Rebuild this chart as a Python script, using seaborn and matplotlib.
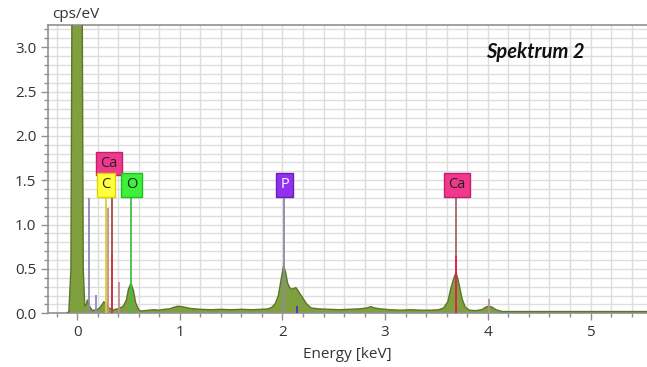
import numpy as np
import matplotlib
matplotlib.use("Agg")
import matplotlib.pyplot as plt
from matplotlib.ticker import MultipleLocator
import seaborn as sns

# ---- data ----
energy = [-0.10, -0.08, -0.06, -0.05, -0.04, 0.0, 0.04, 0.05, 0.06, 0.075, 0.09, 0.10,
          0.12, 0.15, 0.18, 0.21, 0.24, 0.26, 0.28, 0.31, 0.35, 0.40, 0.45, 0.48, 0.50,
          0.525, 0.55, 0.57, 0.60, 0.62, 0.66, 0.70, 0.75, 0.80, 0.85, 0.90, 0.95, 0.98,
          1.02, 1.06, 1.10, 1.15, 1.20, 1.30, 1.40, 1.50, 1.60, 1.70, 1.80, 1.86, 1.90,
          1.93, 1.96, 1.99, 2.01, 2.03, 2.05, 2.07, 2.09, 2.11, 2.13, 2.15, 2.17, 2.19,
          2.21, 2.24, 2.28, 2.35, 2.45, 2.55, 2.65, 2.75, 2.82, 2.86, 2.90, 2.95, 3.05,
          3.15, 3.25, 3.35, 3.45, 3.52, 3.57, 3.61, 3.64, 3.67, 3.69, 3.71, 3.73, 3.75,
          3.78, 3.82, 3.88, 3.94, 3.98, 4.01, 4.04, 4.08, 4.14, 4.25, 4.40, 4.60, 4.80,
          5.00, 5.20, 5.40, 5.55]
cps = [0.0, 0.02, 0.5, 3.5, 8.0, 9.0, 8.0, 3.5, 0.5, 0.08, 0.10, 0.15,
       0.08, 0.03, 0.04, 0.05, 0.09, 0.13, 0.11, 0.06, 0.04, 0.05, 0.08, 0.15, 0.27,
       0.34, 0.25, 0.12, 0.04, 0.025, 0.03, 0.035, 0.04, 0.035, 0.045, 0.05, 0.07, 0.08,
       0.075, 0.065, 0.055, 0.05, 0.045, 0.04, 0.045, 0.04, 0.045, 0.04, 0.045, 0.05, 0.07,
       0.11, 0.20, 0.40, 0.53, 0.47, 0.34, 0.29, 0.27, 0.28, 0.29, 0.26, 0.22, 0.19,
       0.15, 0.10, 0.06, 0.05, 0.045, 0.04, 0.045, 0.05, 0.06, 0.075, 0.06, 0.05, 0.04,
       0.035, 0.04, 0.035, 0.035, 0.04, 0.06, 0.13, 0.28, 0.40, 0.46, 0.38, 0.27, 0.16,
       0.07, 0.035, 0.03, 0.04, 0.07, 0.08, 0.07, 0.04, 0.02, 0.02, 0.02, 0.02, 0.02,
       0.02, 0.02, 0.02, 0.02]

# element marker lines (energy, height)
line_energy = [0.117, 0.185, 0.277, 0.300, 0.341, 0.410, 0.525, 2.013, 2.140, 3.690, 4.010]
line_height = [1.30, 0.21, 1.30, 1.19, 1.30, 0.35, 1.30, 1.30, 0.08, 1.30, 0.16]
line_color = ['#8a8ab0', '#8a8ac8', '#d8d030', '#c49090', '#a84848', '#b89090',
              '#40c040', '#8a8aa8', '#5030c8', '#a06868', '#b89090']
# stronger overlay parts
over_energy = [0.341, 3.690]
over_height = [0.67, 0.65]
over_color = ['#d83040', '#e0204a']

# element labels
label_text = ['Ca', 'C', 'O', 'P', 'Ca']
label_x = [0.31, 0.28, 0.53, 2.02, 3.70]
label_y = [1.69, 1.45, 1.45, 1.45, 1.45]
label_face = ['#f0388c', '#ffff3c', '#3cf03c', '#9030f0', '#f0388c']
label_edge = ['#c02070', '#d8d800', '#20c020', '#6a20b0', '#c02070']
label_fc = ['#222222', '#222222', '#222222', '#ffffff', '#222222']

sns.set_style("white")
plt.rcParams['font.family'] = ['Open Sans', 'DejaVu Sans']

fig = plt.figure(figsize=(6.47, 3.67), dpi=100)
ax = fig.add_axes([0.0747, 0.1463, 0.9253, 0.7856])

ax.set_xlim(-0.28, 5.55)
ax.set_ylim(0, 3.25)

ax.xaxis.set_major_locator(MultipleLocator(1))
ax.xaxis.set_minor_locator(MultipleLocator(0.2))
ax.yaxis.set_major_locator(MultipleLocator(0.5))
ax.yaxis.set_minor_locator(MultipleLocator(0.1))
ax.grid(True, which='both', color='#dedede', linewidth=1.0, zorder=0)
ax.set_axisbelow(True)

ax.fill_between(energy, cps, 0, color='#80a040', zorder=2, linewidth=0)
sns.lineplot(x=energy, y=cps, ax=ax, color='#5a7628', linewidth=1.0, zorder=3,
             sort=False, estimator=None)

ax.vlines(line_energy, 0, line_height, colors=line_color, linewidth=1.3, zorder=4)
ax.vlines(over_energy, 0, over_height, colors=over_color, linewidth=1.3, zorder=5)

for t, x, y, fc, ec, tc in zip(label_text, label_x, label_y, label_face, label_edge, label_fc):
    ax.text(x, y, t, ha='center', va='center', fontsize=10.5, color=tc, zorder=6,
            bbox=dict(boxstyle='square,pad=0.3', facecolor=fc, edgecolor=ec, linewidth=1))

ax.text(4.46, 2.95, 'Spektrum 2', ha='center', va='center', fontsize=14.5,
        fontweight='bold', fontstyle='italic', color='#111111', family=['Lato', 'DejaVu Sans'])

for s in ['left', 'top', 'bottom']:
    ax.spines[s].set_color('#909090')
    ax.spines[s].set_linewidth(1.2)
ax.spines['right'].set_visible(False)

ax.tick_params(axis='both', which='major', direction='out', length=5, width=1,
               color='#909090', labelsize=11, labelcolor='#333333', bottom=True, left=True)
ax.tick_params(axis='both', which='minor', direction='out', length=3, width=1,
               color='#909090', bottom=True, left=True)
ax.yaxis.set_major_formatter(matplotlib.ticker.FormatStrFormatter('%.1f'))

ax.set_xlabel('Energy [keV]', fontsize=11, color='#333333', labelpad=5)
ax.set_ylabel('')
fig.text(0.08, 1 - 14 / 367, 'cps/eV', ha='left', va='center', fontsize=11, color='#333333')

fig.savefig('out.png', dpi=100)
